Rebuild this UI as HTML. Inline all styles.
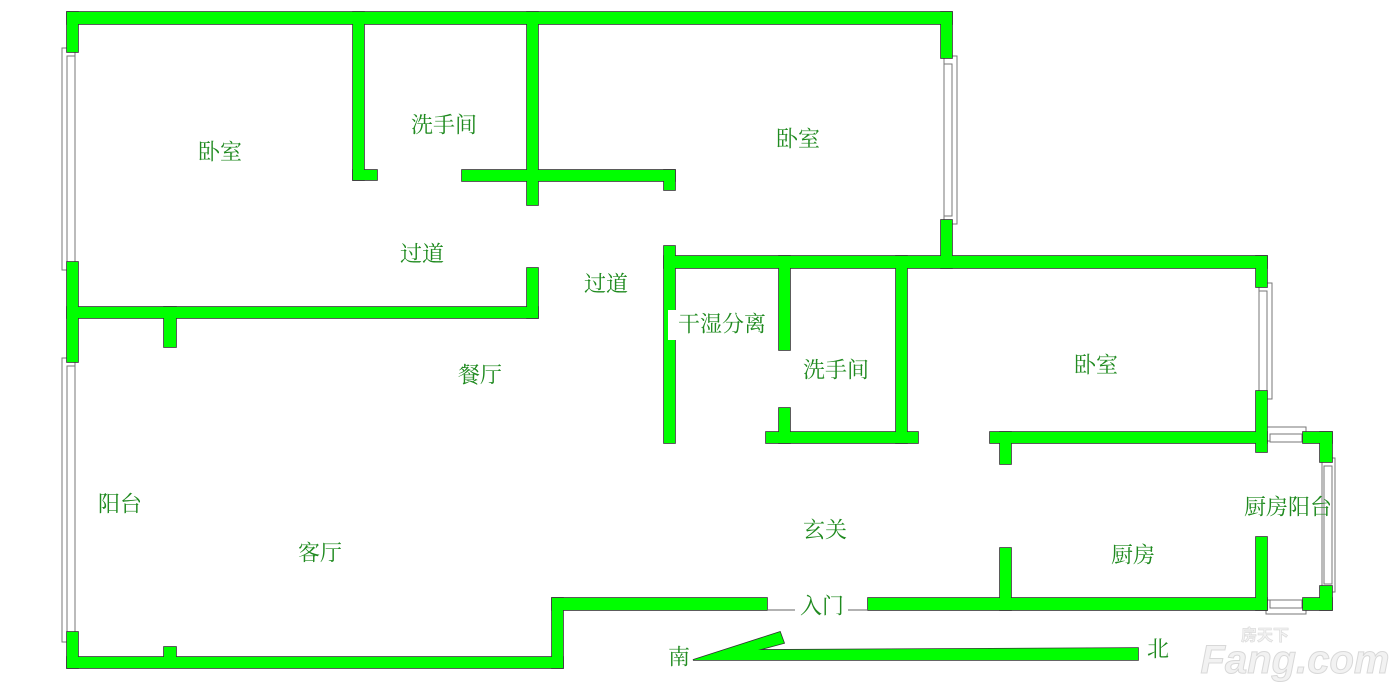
<!DOCTYPE html>
<html><head><meta charset="utf-8"><style>
html,body{margin:0;padding:0;background:#fff;}
svg{display:block}
text{font-family:"Liberation Serif","Noto Serif CJK SC",serif;font-size:22px;fill:#1f8a1f;text-anchor:middle;dominant-baseline:central}
</style></head><body>
<svg width="1400" height="694" viewBox="0 0 1400 694" xmlns="http://www.w3.org/2000/svg">
<defs>
<g id="w">
<rect x="67" y="12" width="885" height="12"/>
<rect x="67" y="12" width="11" height="40"/>
<rect x="67" y="262" width="11" height="100"/>
<rect x="67" y="632" width="11" height="36"/>
<rect x="941" y="12" width="11" height="46"/>
<rect x="941" y="220" width="11" height="48"/>
<rect x="353" y="12" width="11" height="168"/>
<rect x="353" y="170" width="24" height="10"/>
<rect x="527" y="12" width="11" height="193"/>
<rect x="462" y="170" width="213" height="11"/>
<rect x="664" y="170" width="11" height="20"/>
<rect x="67" y="307" width="471" height="11"/>
<rect x="527" y="268" width="11" height="50"/>
<rect x="164" y="307" width="12" height="40"/>
<rect x="664" y="256" width="603" height="12"/>
<rect x="664" y="246" width="11" height="197"/>
<rect x="779" y="256" width="11" height="94"/>
<rect x="779" y="408" width="11" height="35"/>
<rect x="766" y="432" width="152" height="11"/>
<rect x="896" y="256" width="11" height="187"/>
<rect x="1256" y="256" width="11" height="31"/>
<rect x="1256" y="391" width="11" height="61"/>
<rect x="990" y="432" width="277" height="11"/>
<rect x="1000" y="432" width="11" height="32"/>
<rect x="1303" y="432" width="29" height="11"/>
<rect x="1320" y="432" width="12" height="30"/>
<rect x="1320" y="586" width="12" height="24"/>
<rect x="1303" y="598" width="29" height="12"/>
<rect x="1256" y="537" width="11" height="73"/>
<rect x="868" y="598" width="399" height="12"/>
<rect x="1000" y="548" width="11" height="62"/>
<rect x="552" y="598" width="215" height="12"/>
<rect x="552" y="598" width="11" height="70"/>
<rect x="67" y="657" width="496" height="11"/>
<rect x="164" y="647" width="12" height="12"/>
<polygon points="693,660 780,632 784,643 758,650 1138,648 1138,660"/>
</g>
</defs>
<g fill="#fff" stroke="#777" stroke-width="1">
<rect x="62" y="48" width="13" height="222"/><rect x="67" y="56" width="8" height="206"/>
<rect x="62" y="358" width="13" height="284"/><rect x="67" y="366" width="8" height="268"/>
<rect x="944" y="56" width="13" height="168"/><rect x="944" y="64" width="8" height="152"/>
<rect x="1259" y="283" width="13" height="116"/><rect x="1259" y="291" width="8" height="100"/>
<rect x="1322" y="458" width="13" height="134"/><rect x="1324" y="466" width="8" height="118"/>
<rect x="1266" y="427" width="40" height="14"/><rect x="1270" y="434" width="32" height="8"/>
<rect x="1266" y="600" width="40" height="14"/><rect x="1270" y="600" width="32" height="8"/>
</g>
<use href="#w" fill="#00ff00" stroke="#333" stroke-width="1.6"/>
<use href="#w" fill="#00ff00" stroke="none"/>
<line x1="767" y1="610" x2="795" y2="610" stroke="#666" stroke-width="1"/>
<line x1="848" y1="610" x2="868" y2="610" stroke="#666" stroke-width="1"/>
<rect x="668" y="310" width="108" height="30" fill="#fff"/>
<text x="220" y="152">卧室</text>
<text x="444" y="125">洗手间</text>
<text x="798" y="139">卧室</text>
<text x="422" y="254">过道</text>
<text x="606" y="284">过道</text>
<text x="722" y="324">干湿分离</text>
<text x="836" y="370">洗手间</text>
<text x="1096" y="365">卧室</text>
<text x="480" y="375">餐厅</text>
<text x="120" y="504">阳台</text>
<text x="320" y="553">客厅</text>
<text x="825" y="530">玄关</text>
<text x="1288" y="507">厨房阳台</text>
<text x="1133" y="555">厨房</text>
<text x="822" y="606">入门</text>
<text x="679" y="657">南</text>
<text x="1158" y="649">北</text>
<text x="1295" y="660" style="font-family:'Liberation Sans',sans-serif;font-size:40px;font-weight:bold;font-style:italic;fill:#f2f2f2;stroke:#d8d8d8;stroke-width:1">Fang.com</text>
<text x="1265" y="636" style="font-family:'Liberation Sans','Noto Sans CJK SC',sans-serif;font-size:16px;font-weight:bold;fill:#f2f2f2;stroke:#d8d8d8;stroke-width:0.6">房天下</text>
</svg>
</body></html>
